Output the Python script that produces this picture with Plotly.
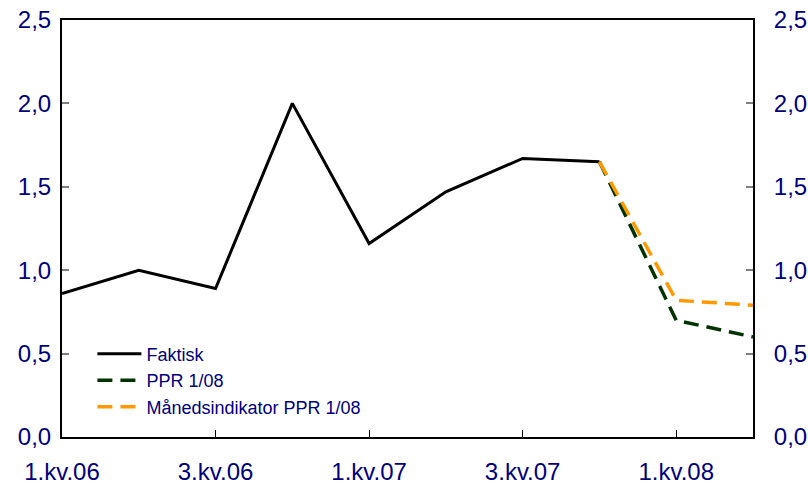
import plotly.graph_objects as go

quarters = ["1.kv.06", "2.kv.06", "3.kv.06", "4.kv.06", "1.kv.07",
            "2.kv.07", "3.kv.07", "4.kv.07", "1.kv.08", "2.kv.08"]
faktisk_q = quarters[:8]
faktisk = [0.86, 1.00, 0.89, 2.00, 1.16, 1.47, 1.67, 1.65]
ppr_q = quarters[7:]
ppr = [1.65, 0.70, 0.60]
mnd_q = quarters[7:]
mnd = [1.65, 0.82, 0.79]
tick_labels = quarters[::2]
y_ticks = [0, 0.5, 1.0, 1.5, 2.0, 2.5]

navy = "#000080"
fig = go.Figure()
fig.add_trace(go.Scatter(x=faktisk_q, y=faktisk, mode="lines", name="Faktisk",
                         line=dict(color="black", width=3)))
fig.add_trace(go.Scatter(x=ppr_q, y=ppr, mode="lines", name="PPR 1/08",
                         line=dict(color="#003300", width=3.5, dash="15px,8px")))
fig.add_trace(go.Scatter(x=mnd_q, y=mnd, mode="lines", name="Månedsindikator PPR 1/08",
                         line=dict(color="#FF9900", width=3.5, dash="15px,8px")))
fig.add_trace(go.Scatter(x=quarters, y=[None]*len(quarters), yaxis="y2",
                         showlegend=False, hoverinfo="skip"))

axfont = dict(family="Liberation Sans, Arial", size=24, color=navy)
fig.update_layout(
    width=808, height=487,
    margin=dict(l=62, r=55, t=20, b=50),
    paper_bgcolor="white", plot_bgcolor="white",
    separators=", ",
    showlegend=True,
    legend=dict(x=0.044, y=0.243, xanchor="left", yanchor="top",
                bgcolor="rgba(0,0,0,0)", itemwidth=44,
                font=dict(family="Liberation Sans, Arial", size=18, color=navy),
                tracegroupgap=0),
    xaxis=dict(type="category", categoryorder="array", categoryarray=quarters,
               range=[0, 9], tickvals=tick_labels, ticktext=tick_labels,
               ticks="inside", ticklen=7, tickcolor="black", tickwidth=1,
               showline=True, linecolor="black", linewidth=2, mirror=True,
               showgrid=False, zeroline=False, tickfont=axfont,
               ticklabelstandoff=12, automargin=False,
               ticklabeloverflow="allow"),
    yaxis=dict(range=[0, 2.5], tickvals=y_ticks, tickformat=".1f",
               ticks="inside", ticklen=7, tickcolor="gray", tickwidth=1.5,
               showline=True, linecolor="black", linewidth=2,
               showgrid=False, zeroline=False, tickfont=axfont,
               ticklabelstandoff=4, automargin=False,
               ticklabeloverflow="allow"),
    yaxis2=dict(range=[0, 2.5], tickvals=y_ticks, tickformat=".1f",
                overlaying="y", side="right",
                ticks="inside", ticklen=7, tickcolor="gray", tickwidth=1.5,
                showline=True, linecolor="black", linewidth=2,
                showgrid=False, zeroline=False, tickfont=axfont,
                ticklabelstandoff=14, automargin=False,
                ticklabeloverflow="allow"),
)
fig.write_html("out.html", config={"displayModeBar": False},
               post_script="document.body.style.margin='0';"
                           "document.body.style.overflow='hidden';")
